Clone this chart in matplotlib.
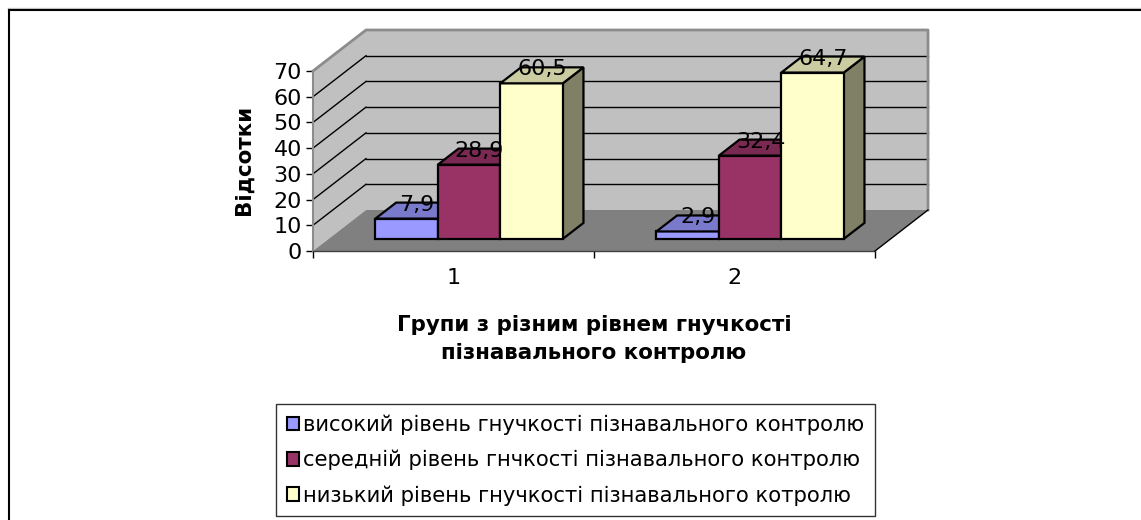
import matplotlib
matplotlib.use("Agg")
import matplotlib.pyplot as plt
from matplotlib.patches import Polygon, Patch
from matplotlib.lines import Line2D

plt.rcParams["font.family"] = ["DejaVu Sans"]

# ---- data -------------------------------------------------------------
groups = ["1", "2"]
series_names = [
    "високий рівень гнучкості пізнавального контролю",
    "середній рівень гнчкості пізнавального контролю",
    "низький рівень гнучкості пізнавального котролю",
]
high_level = [7.9, 2.9]
medium_level = [28.9, 32.4]
low_level = [60.5, 64.7]
y_ticks = [0, 10, 20, 30, 40, 50, 60, 70]
y_label = "Відсотки"
x_label = "Групи з різним рівнем гнучкості\nпізнавального контролю"

series = [high_level, medium_level, low_level]

# ---- style ------------------------------------------------------------
front_colors = ["#9999FF", "#993366", "#FFFFCC"]
top_colors = ["#7A7ACC", "#7A2952", "#CCCCA3"]
side_colors = ["#4C4C80", "#4C1933", "#808066"]
wall_color = "#C0C0C0"
floor_color = "#808080"
wall_edge = "#8C8C8C"
FS = 16
FS_LEG = 15.2
FS_BOLD = 15.4

W_PX, H_PX = 1141, 520
fig = plt.figure(figsize=(W_PX / 100, H_PX / 100), dpi=100)
fig.patch.set_facecolor("white")

# front plane of the 3-D plot box
ax = fig.add_axes([313 / W_PX, (H_PX - 251) / H_PX, 562 / W_PX, 180 / H_PX])
ymax = y_ticks[-1]
ax.set_xlim(0, len(groups))
ax.set_ylim(0, ymax)
ax.patch.set_visible(False)

# depth vector of the box, in data units
DX = 53 / 281
DY = 41 / (180 / ymax)
n_cat = len(groups)

# walls and floor
back = Polygon([(DX, DY), (n_cat + DX, DY), (n_cat + DX, ymax + DY), (DX, ymax + DY)],
               closed=True, fc=wall_color, ec="none", clip_on=False, zorder=1)
left = Polygon([(0, 0), (DX, DY), (DX, ymax + DY), (0, ymax)],
               closed=True, fc=wall_color, ec="none", clip_on=False, zorder=1)
floor = Polygon([(0, 0), (n_cat, 0), (n_cat + DX, DY), (DX, DY)],
                closed=True, fc=floor_color, ec="none", clip_on=False, zorder=1.5)
for p in (back, left, floor):
    ax.add_patch(p)

# gridlines on back and side wall
for v in y_ticks[1:-1]:
    ax.plot([DX, n_cat + DX], [v + DY, v + DY], color="black", lw=1, clip_on=False, zorder=2)
    ax.plot([0, DX], [v, v + DY], color="black", lw=1, clip_on=False, zorder=2)

# wall outlines
ax.plot([0, DX, n_cat + DX, n_cat + DX], [ymax, ymax + DY, ymax + DY, DY],
        color=wall_edge, lw=2, clip_on=False, zorder=2)
ax.plot([0, 0], [0, ymax], color=wall_edge, lw=1.5, clip_on=False, zorder=2)
ax.plot([0, n_cat], [0, 0], color="#404040", lw=1, clip_on=False, zorder=2)
ax.plot([n_cat, n_cat + DX], [0, DY], color="black", lw=1, clip_on=False, zorder=2)

# bars
n_ser = len(series)
gap = 1.5
bw = 1 / (n_ser + gap)
D0, D1 = 0.295, 0.685
ddx, ddy = (D1 - D0) * DX, (D1 - D0) * DY
z = 3
for gi in range(n_cat):
    start = gi + 0.5 - n_ser * bw / 2
    for si, vals in enumerate(series):
        v = vals[gi]
        x0 = start + si * bw + D0 * DX
        y0 = D0 * DY
        side = [(x0 + bw, y0), (x0 + bw + ddx, y0 + ddy), (x0 + bw + ddx, y0 + ddy + v), (x0 + bw, y0 + v)]
        front = [(x0, y0), (x0 + bw, y0), (x0 + bw, y0 + v), (x0, y0 + v)]
        top = [(x0, y0 + v), (x0 + bw, y0 + v), (x0 + bw + ddx, y0 + v + ddy), (x0 + ddx, y0 + v + ddy)]
        for pts, col in ((side, side_colors[si]), (front, front_colors[si]), (top, top_colors[si])):
            ax.add_patch(Polygon(pts, closed=True, fc=col, ec="black", lw=1.6,
                                 joinstyle="miter", clip_on=False, zorder=z))
            z += 0.01
        ax.text(x0 + bw / 2 + ddx / 2, y0 + v + ddy / 2, f"{v:.1f}".replace(".", ","),
                ha="center", va="baseline", fontsize=FS, color="black", zorder=10)

# axes, ticks and labels
for s in ax.spines.values():
    s.set_visible(False)
ax.set_yticks(y_ticks)
ax.set_yticklabels([str(t) for t in y_ticks])
ax.tick_params(axis="y", direction="out", length=5, width=1, color="black",
               labelsize=FS, pad=3)
ax.set_xticks(range(n_cat + 1))
ax.set_xticklabels([""] * (n_cat + 1))
ax.tick_params(axis="x", which="major", direction="out", length=5, width=1, color="black")
ax.set_xticks([i + 0.5 for i in range(n_cat)], minor=True)
ax.set_xticklabels(groups, minor=True)
ax.tick_params(axis="x", which="minor", length=0, labelsize=FS, pad=12)

ax.set_ylabel(y_label, fontsize=FS_BOLD, fontweight="bold")
ax.yaxis.set_label_coords((244 - 313) / 562, (251 - 160) / 180)
ax.yaxis.label.set_va("center")

ax.set_xlabel(x_label, fontsize=FS_BOLD, fontweight="bold", linespacing=1.55)
ax.xaxis.set_label_coords(0.5, (251 - 339) / 180)
ax.xaxis.label.set_va("center")

# legend
handles = [Patch(fc=c, ec="black", lw=1.5) for c in front_colors]
leg = fig.legend(handles, series_names, loc="upper left",
                 bbox_to_anchor=(276 / W_PX, 1 - 404 / H_PX),
                 fontsize=FS_LEG, frameon=True, fancybox=False, edgecolor="black",
                 handlelength=0.6, handleheight=0.6, handletextpad=0.2,
                 labelspacing=0.7, borderpad=0.5, borderaxespad=0)
leg.get_frame().set_linewidth(1)

# outer chart-area border
fig.add_artist(Line2D([8 / W_PX, 1], [1 - 7.5 / H_PX] * 2, transform=fig.transFigure,
                      color="#C8C8C8", lw=1))
fig.add_artist(Line2D([8.5 / W_PX, 1], [1 - 10 / H_PX] * 2, transform=fig.transFigure,
                      color="black", lw=1.5))
fig.add_artist(Line2D([8.5 / W_PX] * 2, [0, 1 - 10 / H_PX], transform=fig.transFigure,
                      color="black", lw=1.5))

fig.savefig("out.png", dpi=100)
